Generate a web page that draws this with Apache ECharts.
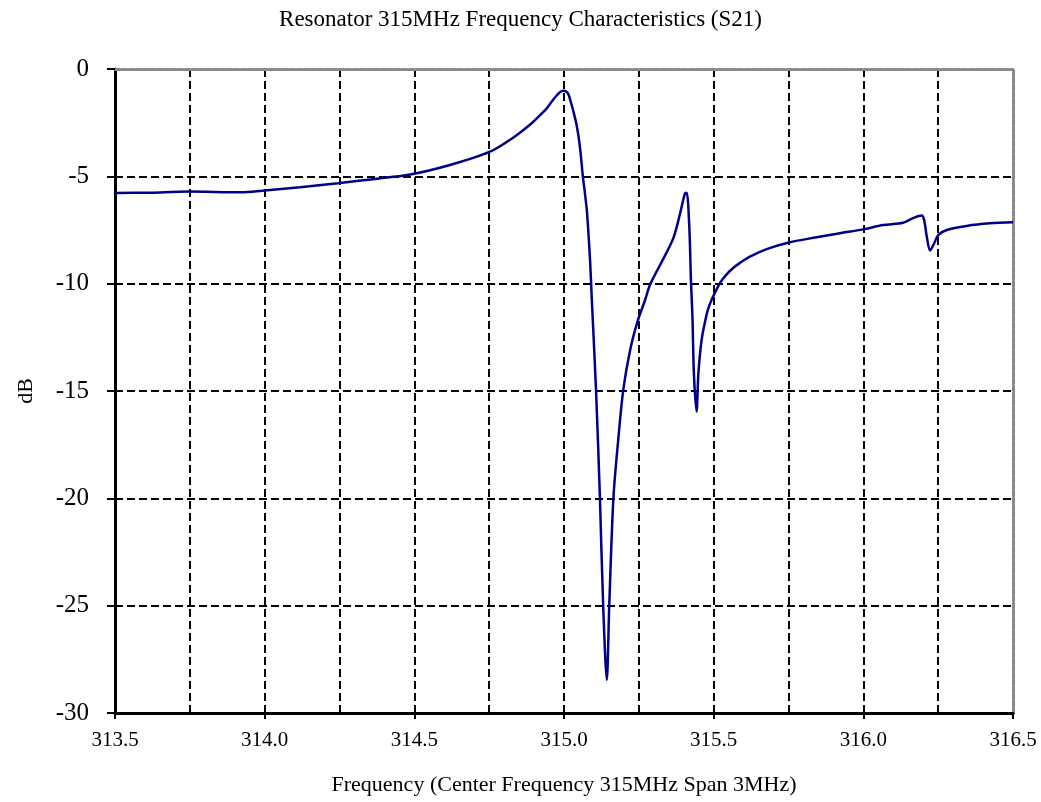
<!DOCTYPE html>
<html>
<head>
<meta charset="utf-8">
<script src="https://cdn.jsdelivr.net/npm/echarts@6/dist/echarts.min.js"></script>
<style>html,body{margin:0;padding:0;background:#fff}#c{width:1041px;height:802px}</style>
</head>
<body>
<div id="c"></div>
<script>
const titleText = 'Resonator 315MHz Frequency Characteristics (S21)';
const xName = 'Frequency (Center Frequency 315MHz Span 3MHz)';
const yName = 'dB';
const freqMHz = [313.500,313.617,313.744,313.923,313.991,314.118,314.245,314.369,314.491,314.619,314.753,314.830,314.886,314.920,314.943,314.960,314.977,314.987,314.997,315.003,315.013,315.020,315.030,315.042,315.053,315.063,315.070,315.077,315.087,315.093,315.107,315.120,315.131,315.143,315.151,315.165,315.181,315.198,315.221,315.247,315.271,315.287,315.321,315.365,315.388,315.404,315.410,315.419,315.424,315.429,315.434,315.443,315.449,315.460,315.477,315.486,315.498,315.521,315.541,315.565,315.588,315.621,315.677,315.748,315.844,315.922,315.999,316.066,316.133,316.166,316.195,316.203,316.212,316.223,316.234,316.251,316.279,316.345,316.423,316.500];
const s21dB = [-5.78,-5.76,-5.71,-5.74,-5.67,-5.51,-5.32,-5.12,-4.90,-4.47,-3.85,-3.20,-2.60,-2.15,-1.82,-1.50,-1.21,-1.07,-1.01,-1.02,-1.13,-1.40,-1.90,-2.60,-3.60,-5.00,-5.80,-6.70,-8.90,-10.76,-14.95,-19.98,-25.06,-28.46,-25.06,-20.00,-17.30,-14.95,-13.09,-11.70,-10.76,-10.06,-9.13,-7.89,-6.72,-5.79,-5.76,-7.50,-9.83,-11.50,-14.20,-15.96,-14.17,-12.60,-11.40,-11.00,-10.60,-9.97,-9.60,-9.27,-9.03,-8.74,-8.39,-8.09,-7.84,-7.65,-7.47,-7.27,-7.16,-6.95,-6.83,-7.03,-7.81,-8.46,-8.20,-7.73,-7.50,-7.31,-7.19,-7.14];
const xTicks = {min: 313.5, max: 316.5, interval: 0.5};
const yTicks = {min: -30, max: 0, interval: 5};

const font = 'Liberation Serif';
const chart = echarts.init(document.getElementById('c'));
const dash = {color: '#000', type: [8, 4], width: 2};
chart.setOption({
  animation: false,
  title: {text: titleText, left: 'center', top: 3, textStyle: {fontFamily: font, fontSize: 23, fontWeight: 'normal', color: '#000'}},
  grid: {left: 115, right: 28, top: 69, bottom: 89},
  xAxis: [{
    type: 'value', min: xTicks.min, max: xTicks.max, interval: xTicks.interval,
    name: xName, nameLocation: 'middle', nameGap: 61,
    nameTextStyle: {fontFamily: font, fontSize: 22, color: '#000'},
    axisLine: {show: true, onZero: false, lineStyle: {color: '#000', width: 3}},
    axisTick: {show: true, length: 6, lineStyle: {color: '#000', width: 2}},
    axisLabel: {fontFamily: font, fontSize: 21, color: '#000', margin: 17, formatter: v => v.toFixed(1)},
    splitLine: {show: true, showMinLine: false, showMaxLine: false, lineStyle: dash},
    minorTick: {show: false, splitNumber: 2},
    minorSplitLine: {show: true, lineStyle: dash}
  }, {
    type: 'value', position: 'top', min: xTicks.min, max: xTicks.max,
    axisLine: {show: true, lineStyle: {color: '#888', width: 3, type: [5, 2]}},
    axisTick: {show: false}, axisLabel: {show: false}, splitLine: {show: false}
  }],
  yAxis: [{
    type: 'value', min: yTicks.min, max: yTicks.max, interval: yTicks.interval,
    name: yName, nameLocation: 'middle', nameGap: 78,
    nameTextStyle: {fontFamily: font, fontSize: 22, color: '#000'},
    axisLine: {show: true, onZero: false, lineStyle: {color: '#000', width: 3}},
    axisTick: {show: true, length: 8, lineStyle: {color: '#000', width: 2}},
    axisLabel: {fontFamily: font, fontSize: 25, color: '#000', margin: 26, padding: [4, 0, 0, 0]},
    splitLine: {show: true, showMinLine: false, showMaxLine: false, lineStyle: dash}
  }, {
    type: 'value', position: 'right', min: yTicks.min, max: yTicks.max,
    axisLine: {show: true, lineStyle: {color: '#888', width: 3, type: [5, 2]}},
    axisTick: {show: false}, axisLabel: {show: false}, splitLine: {show: false}
  }],
  series: [{
    type: 'line', xAxisIndex: 0, yAxisIndex: 0,
    data: freqMHz.map((f, i) => [f, s21dB[i]]),
    showSymbol: false, smooth: 0.3,
    lineStyle: {color: '#000088', width: 2.5}
  }]
});
</script>
</body>
</html>
